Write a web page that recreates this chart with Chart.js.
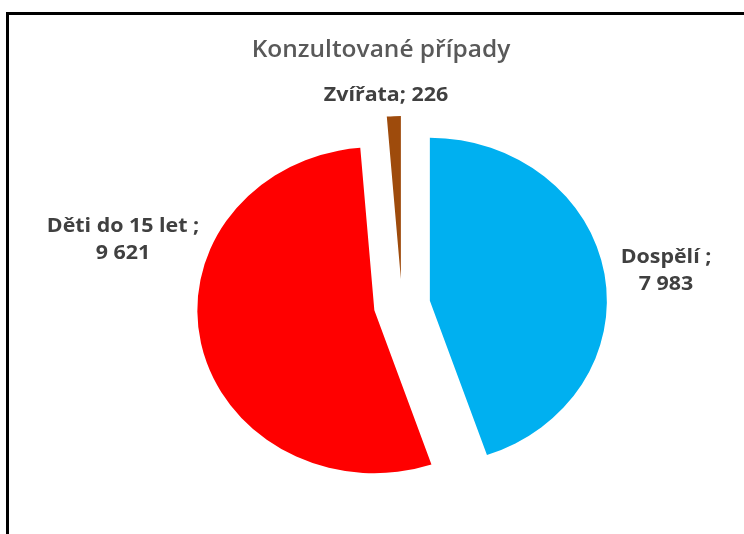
<!DOCTYPE html>
<html>
<head>
<meta charset="utf-8">
<script src="https://cdn.jsdelivr.net/npm/chart.js@4"></script>
<style>
  html, body { margin: 0; padding: 0; background: #fff; overflow: hidden; }
  #wrap { position: relative; width: 744px; height: 534px; }
  #frame { position: absolute; left: 6px; top: 12px; width: 800px; height: 600px; border: 3px solid #000; pointer-events: none; }
  canvas { position: absolute; left: 0; top: 0; }
</style>
</head>
<body>
<div id="wrap">
  <canvas id="pie" width="744" height="534"></canvas>
  <div id="frame"></div>
</div>
<script>
// Data
const categories = ['Dospělí', 'Děti do 15 let', 'Zvířata'];
const values = [7983, 9621, 226];
const valueLabels = ['7 983', '9 621', '226'];
const sliceColors = ['#00B0F0', '#FF0000', '#9E4B0C'];

// The source pie is slightly wider than tall, slices pulled out like Excel does
const stretchX = 1.086;
const explode = 26;

// Label anchors (centre x, baseline of first line)
const labelSpots = [
    { x: 666, y: 263, lines: ['Dospělí ;', valueLabels[0]] },
    { x: 123, y: 232, lines: ['Děti do 15 let ;', valueLabels[1]] },
    { x: 386, y: 101, lines: ['Zvířata; ' + valueLabels[2]] }
];

// Draw each arc ourselves: stretched and shifted out along its mid angle
const explodePlugin = {
    id: 'explode',
    beforeDatasetsDraw(chart) {
        const ctx = chart.ctx;
        chart.getDatasetMeta(0).data.forEach(arc => {
            const mid = (arc.startAngle + arc.endAngle) / 2;
            ctx.save();
            ctx.translate(arc.x, arc.y);
            ctx.scale(stretchX, 1);
            ctx.translate(-arc.x, -arc.y);
            ctx.translate(Math.cos(mid) * explode, Math.sin(mid) * explode);
            arc.draw(ctx);
            ctx.restore();
        });
        return false;
    }
};

function stretchedText(ctx, text, x, y, sx) {
    ctx.save();
    ctx.translate(x, y);
    ctx.scale(sx, 1);
    ctx.fillText(text, 0, 0);
    ctx.restore();
}

const textPlugin = {
    id: 'texts',
    afterDraw(chart) {
        const ctx = chart.ctx;
        ctx.save();
        ctx.textAlign = 'center';
        ctx.textBaseline = 'alphabetic';
        // title
        ctx.fillStyle = '#595959';
        ctx.font = '600 24px "Open Sans"';
        stretchedText(ctx, 'Konzultované případy', 381, 57, 1.02);
        // data labels
        ctx.fillStyle = '#404040';
        ctx.font = 'bold 20px "Open Sans"';
        labelSpots.forEach(spot => {
            spot.lines.forEach((line, i) => {
                stretchedText(ctx, line, spot.x, spot.y + i * 27, 1.07);
            });
        });
        ctx.restore();
    }
};

new Chart(document.getElementById('pie'), {
    type: 'pie',
    data: {
        labels: categories,
        datasets: [{
            data: values,
            backgroundColor: sliceColors,
            borderWidth: 0
        }]
    },
    options: {
        responsive: false,
        animation: false,
        events: [],
        radius: 163,
        layout: {
            padding: { left: 60, right: 0, top: 76, bottom: 0 }
        },
        plugins: {
            legend: { display: false },
            title: { display: false },
            tooltip: { enabled: false }
        }
    },
    plugins: [explodePlugin, textPlugin]
});
</script>
</body>
</html>
